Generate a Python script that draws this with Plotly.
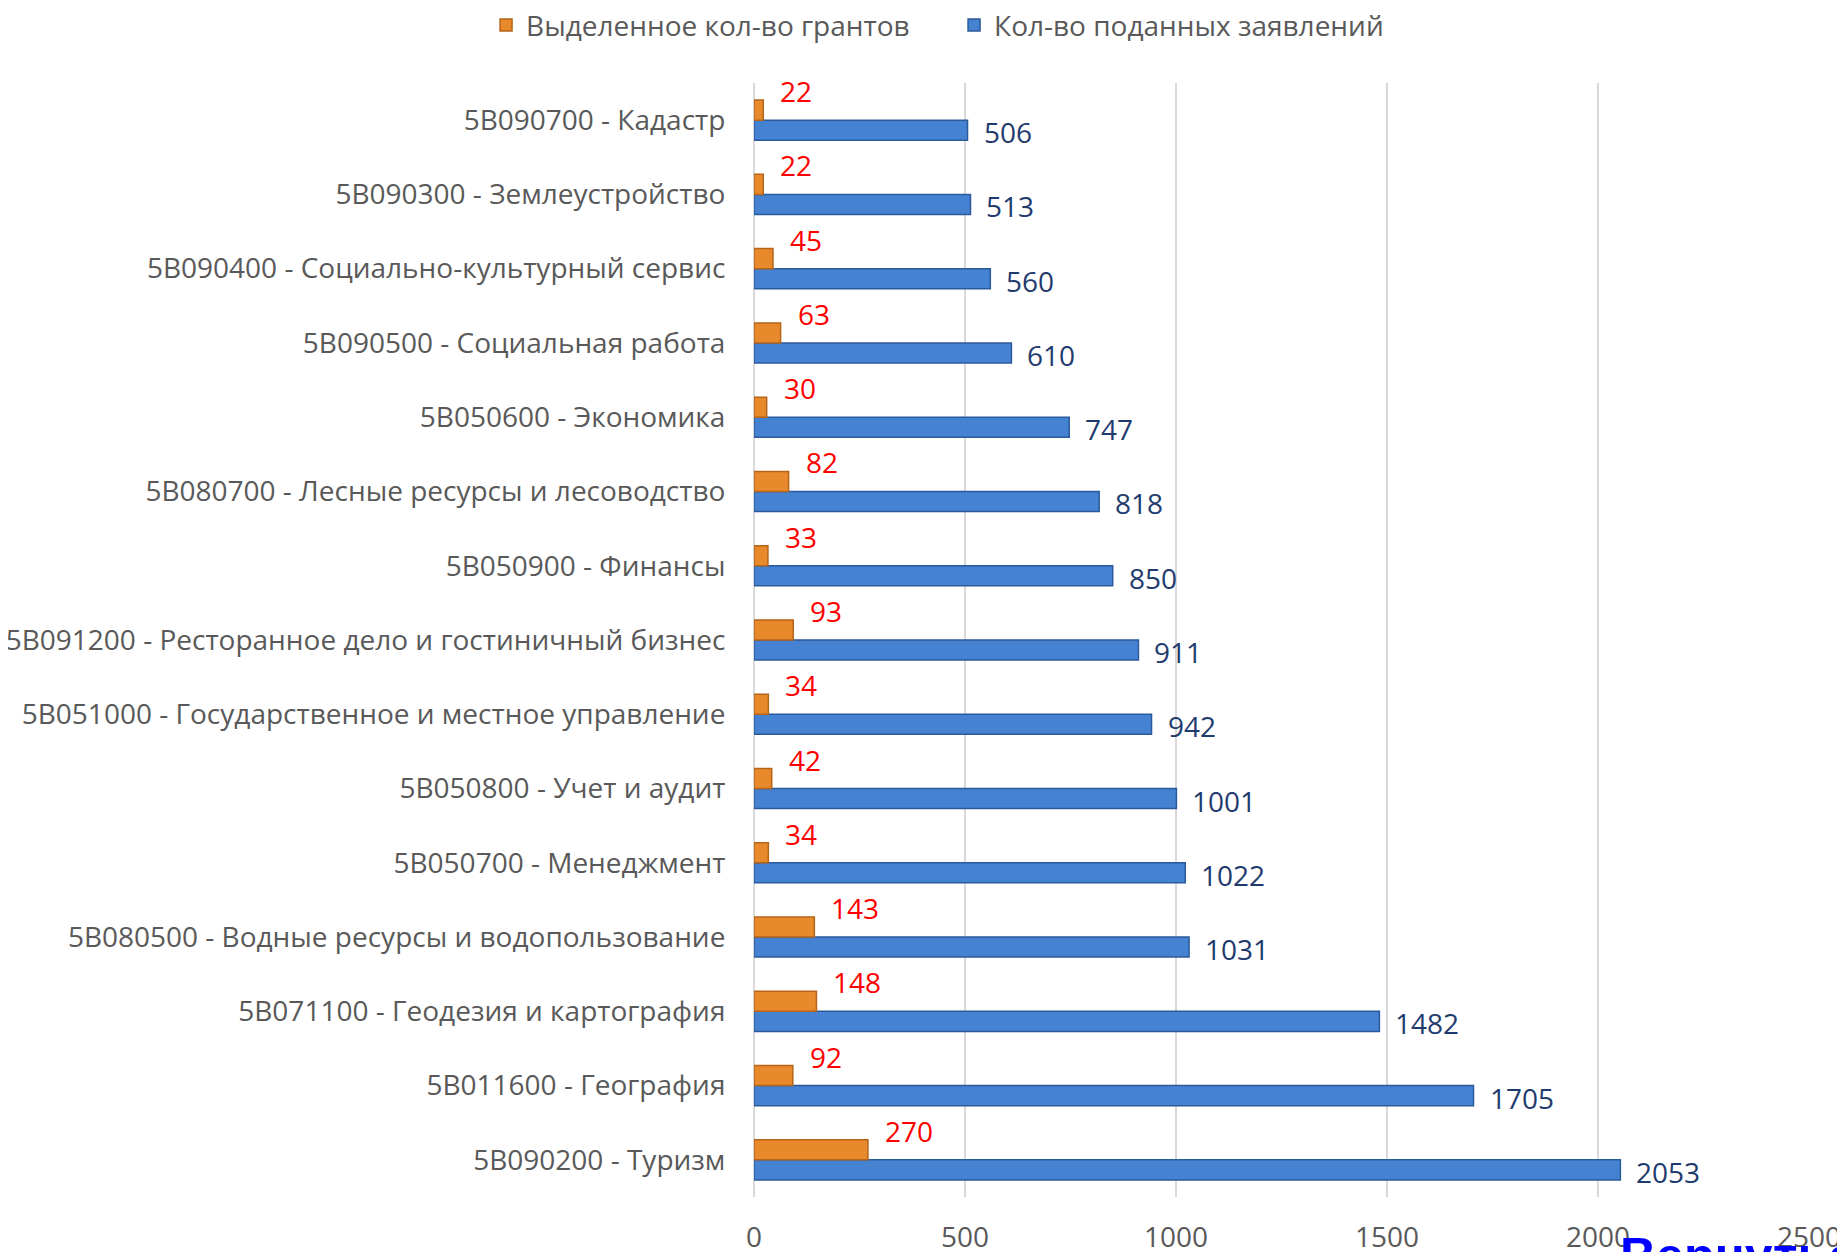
import plotly.graph_objects as go

# categories listed bottom -> top (plotly category axis grows upward)
specialties = [
    "5В090200 - Туризм",
    "5В011600 - География",
    "5В071100 - Геодезия и картография",
    "5В080500 - Водные ресурсы и водопользование",
    "5В050700 - Менеджмент",
    "5В050800 - Учет и аудит",
    "5В051000 - Государственное и местное управление",
    "5В091200 - Ресторанное дело и гостиничный бизнес",
    "5В050900 - Финансы",
    "5В080700 - Лесные ресурсы и лесоводство",
    "5В050600 - Экономика",
    "5В090500 - Социальная работа",
    "5В090400 - Социально-культурный сервис",
    "5В090300 - Землеустройство",
    "5В090700 - Кадастр",
]
applications = [2053, 1705, 1482, 1031, 1022, 1001, 942, 911, 850, 818, 747, 610, 560, 513, 506]
grants = [270, 92, 148, 143, 34, 42, 34, 93, 33, 82, 30, 63, 45, 22, 22]

font = "Open Sans"
grey = "#595959"
fs = 28

fig = go.Figure()

fig.add_trace(go.Bar(
    y=specialties,
    x=applications,
    orientation="h",
    name="Кол-во поданных заявлений",
    marker=dict(color="#4682D2", line=dict(color="#2B5A9B", width=1.5)),
    legendrank=2,
))

fig.add_trace(go.Bar(
    y=specialties,
    x=grants,
    orientation="h",
    name="Выделенное кол-во грантов",
    marker=dict(color="#E8892C", line=dict(color="#B5641A", width=1.5)),
    legendrank=1,
))

# value labels
for cat, val in zip(specialties, applications):
    fig.add_annotation(
        x=val, y=cat, text=str(val), showarrow=False,
        xanchor="left", yanchor="middle", xshift=14, yshift=-12,
        font=dict(family=font, size=fs, color="#1F3B6E"),
    )

for cat, val in zip(specialties, grants):
    fig.add_annotation(
        x=val, y=cat, text=str(val), showarrow=False,
        xanchor="left", yanchor="middle", xshift=15, yshift=29,
        font=dict(family=font, size=fs, color="#FF0000"),
    )

fig.add_annotation(
    xref="paper", yref="paper", x=0.819, y=-0.026,
    xanchor="left", yanchor="top", showarrow=False,
    text="<b>Вернуться</b>",
    font=dict(family="Liberation Sans", size=50, color="#0000FF"),
)

fig.update_layout(
    width=1837,
    height=1244,
    barmode="group",
    bargap=0.46,
    bargroupgap=0,
    plot_bgcolor="white",
    paper_bgcolor="white",
    margin=dict(l=746, r=36, t=75, b=55),
    font=dict(family=font, color=grey),
    legend=dict(
        orientation="h",
        xref="container", x=0.515, xanchor="center",
        yref="container", y=0.986, yanchor="middle",
        font=dict(size=fs, color=grey),
        itemwidth=30,
        entrywidthmode="pixels", entrywidth=423,
    ),
    xaxis=dict(
        automargin=False,
        range=[0, 2500],
        dtick=500,
        showgrid=True,
        gridcolor="#D9D9D9",
        gridwidth=1.5,
        zeroline=True,
        zerolinecolor="#D9D9D9",
        zerolinewidth=1.5,
        ticks="outside",
        ticklen=15,
        tickcolor="rgba(0,0,0,0)",
        tickfont=dict(size=fs, color=grey),
    ),
    yaxis=dict(
        automargin=False,
        range=[-0.5, len(specialties) - 0.5],
        showgrid=False,
        ticks="outside",
        ticklen=22,
        tickcolor="rgba(0,0,0,0)",
        tickfont=dict(size=fs, color=grey),
    ),
)

fig.write_html("out.html")
